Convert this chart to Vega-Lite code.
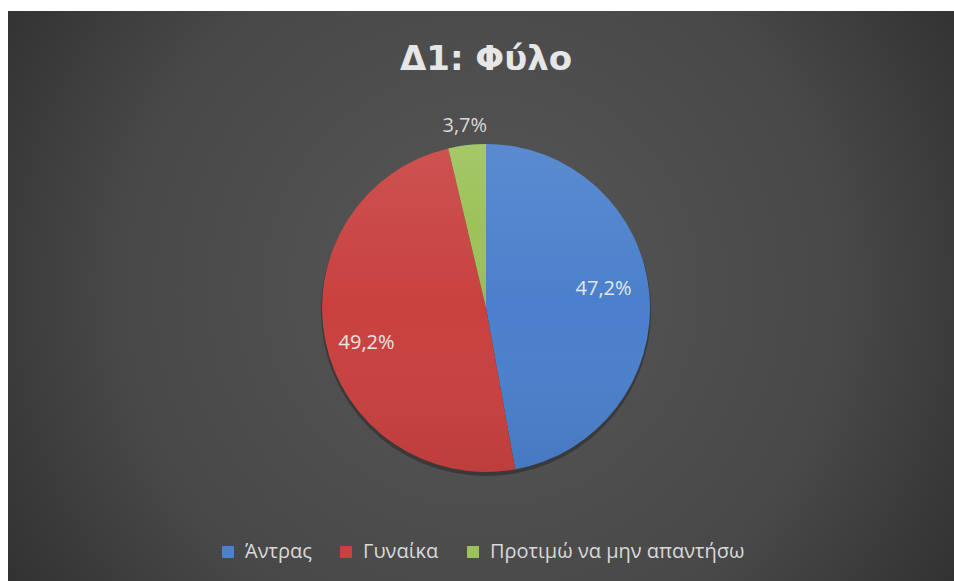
{
  "$schema": "https://vega.github.io/schema/vega-lite/v6.json",
  "width": 956,
  "height": 594,
  "autosize": {"type": "none"},
  "padding": {"left": 8, "top": 11, "right": -10, "bottom": -24},
  "background": "white",
  "config": {"view": {"stroke": null}},
  "title": {
    "text": "Δ1: Φύλο",
    "orient": "top",
    "anchor": "middle",
    "frame": "group",
    "offset": -93,
    "baseline": "alphabetic",
    "font": "DejaVu Sans",
    "fontSize": 34,
    "fontWeight": "bold",
    "color": "#e6e6e6"
  },
  "datasets": {
    "gender": [
      {"i": 1, "cat": "Άντρας", "pct": 47.2, "label": "47,2%"},
      {"i": 2, "cat": "Γυναίκα", "pct": 49.2, "label": "49,2%"},
      {"i": 3, "cat": "Προτιμώ να μην απαντήσω", "pct": 3.7, "label": "3,7%"}
    ],
    "bg": [{"panel": "background"}]
  },
  "layer": [
    {
      "data": {"name": "bg"},
      "mark": {
        "type": "rect",
        "fill": {
          "gradient": "radial",
          "x1": 0.495, "y1": 0.48, "r1": 0,
          "x2": 0.495, "y2": 0.48, "r2": 0.69,
          "stops": [
            {"offset": 0, "color": "#575757"},
            {"offset": 0.55, "color": "#484848"},
            {"offset": 1, "color": "#262626"}
          ]
        }
      },
      "encoding": {}
    },
    {
      "data": {"name": "bg"},
      "mark": {"type": "arc", "outerRadius": 165, "yOffset": 3, "fill": "#1e1e1e", "fillOpacity": 0.45, "strokeWidth": 0},
      "encoding": {}
    },
    {
      "data": {"name": "gender"},
      "layer": [
        {
          "mark": {"type": "arc", "outerRadius": 164, "strokeWidth": 0},
          "encoding": {
            "theta": {"field": "pct", "type": "quantitative", "stack": true},
            "order": {"field": "i", "type": "quantitative"},
            "color": {
              "field": "cat",
              "type": "nominal",
              "sort": ["Άντρας", "Γυναίκα", "Προτιμώ να μην απαντήσω"],
              "scale": {
                "domain": ["Άντρας", "Γυναίκα", "Προτιμώ να μην απαντήσω"],
                "range": ["#4a80cc", "#c8413f", "#9dc25a"]
              },
              "legend": {
                "title": null,
                "orient": "none",
                "direction": "horizontal",
                "legendX": 210,
                "legendY": 531,
                "padding": 0,
                "symbolType": "square",
                "symbolSize": 144,
                "symbolStrokeWidth": 0,
                "labelFont": "Open Sans",
                "labelFontSize": 20,
                "labelColor": "#d9d9d9",
                "labelOffset": 7,
                "columnPadding": 24,
                "labelLimit": 400
              }
            }
          }
        },
        {
          "mark": {
            "type": "arc",
            "outerRadius": 164,
            "strokeWidth": 0,
            "fill": {
              "gradient": "linear",
              "x1": 0, "y1": 0, "x2": 0, "y2": 1,
              "stops": [
                {"offset": 0, "color": "rgba(255,255,255,0.09)"},
                {"offset": 0.5, "color": "rgba(255,255,255,0)"},
                {"offset": 1, "color": "rgba(0,0,0,0.06)"}
              ]
            }
          },
          "encoding": {
            "theta": {"field": "pct", "type": "quantitative", "stack": true},
            "order": {"field": "i", "type": "quantitative"}
          }
        },
        {
          "mark": {"type": "text", "radius": 118, "dy": -8, "font": "Open Sans", "fontSize": 20, "color": "#e6e6e6"},
          "encoding": {
            "theta": {"field": "pct", "type": "quantitative", "stack": true},
            "order": {"field": "i", "type": "quantitative"},
            "text": {"condition": {"test": "datum.i == 1", "field": "label"}, "value": ""}
          }
        },
        {
          "mark": {"type": "text", "radius": 122, "dy": 10, "font": "Open Sans", "fontSize": 20, "color": "#e6e6e6"},
          "encoding": {
            "theta": {"field": "pct", "type": "quantitative", "stack": true},
            "order": {"field": "i", "type": "quantitative"},
            "text": {"condition": {"test": "datum.i == 2", "field": "label"}, "value": ""}
          }
        },
        {
          "mark": {"type": "text", "radius": 183, "font": "Open Sans", "fontSize": 20, "color": "#d9d9d9"},
          "encoding": {
            "theta": {"field": "pct", "type": "quantitative", "stack": true},
            "order": {"field": "i", "type": "quantitative"},
            "text": {"condition": {"test": "datum.i == 3", "field": "label"}, "value": ""}
          }
        }
      ]
    }
  ]
}
